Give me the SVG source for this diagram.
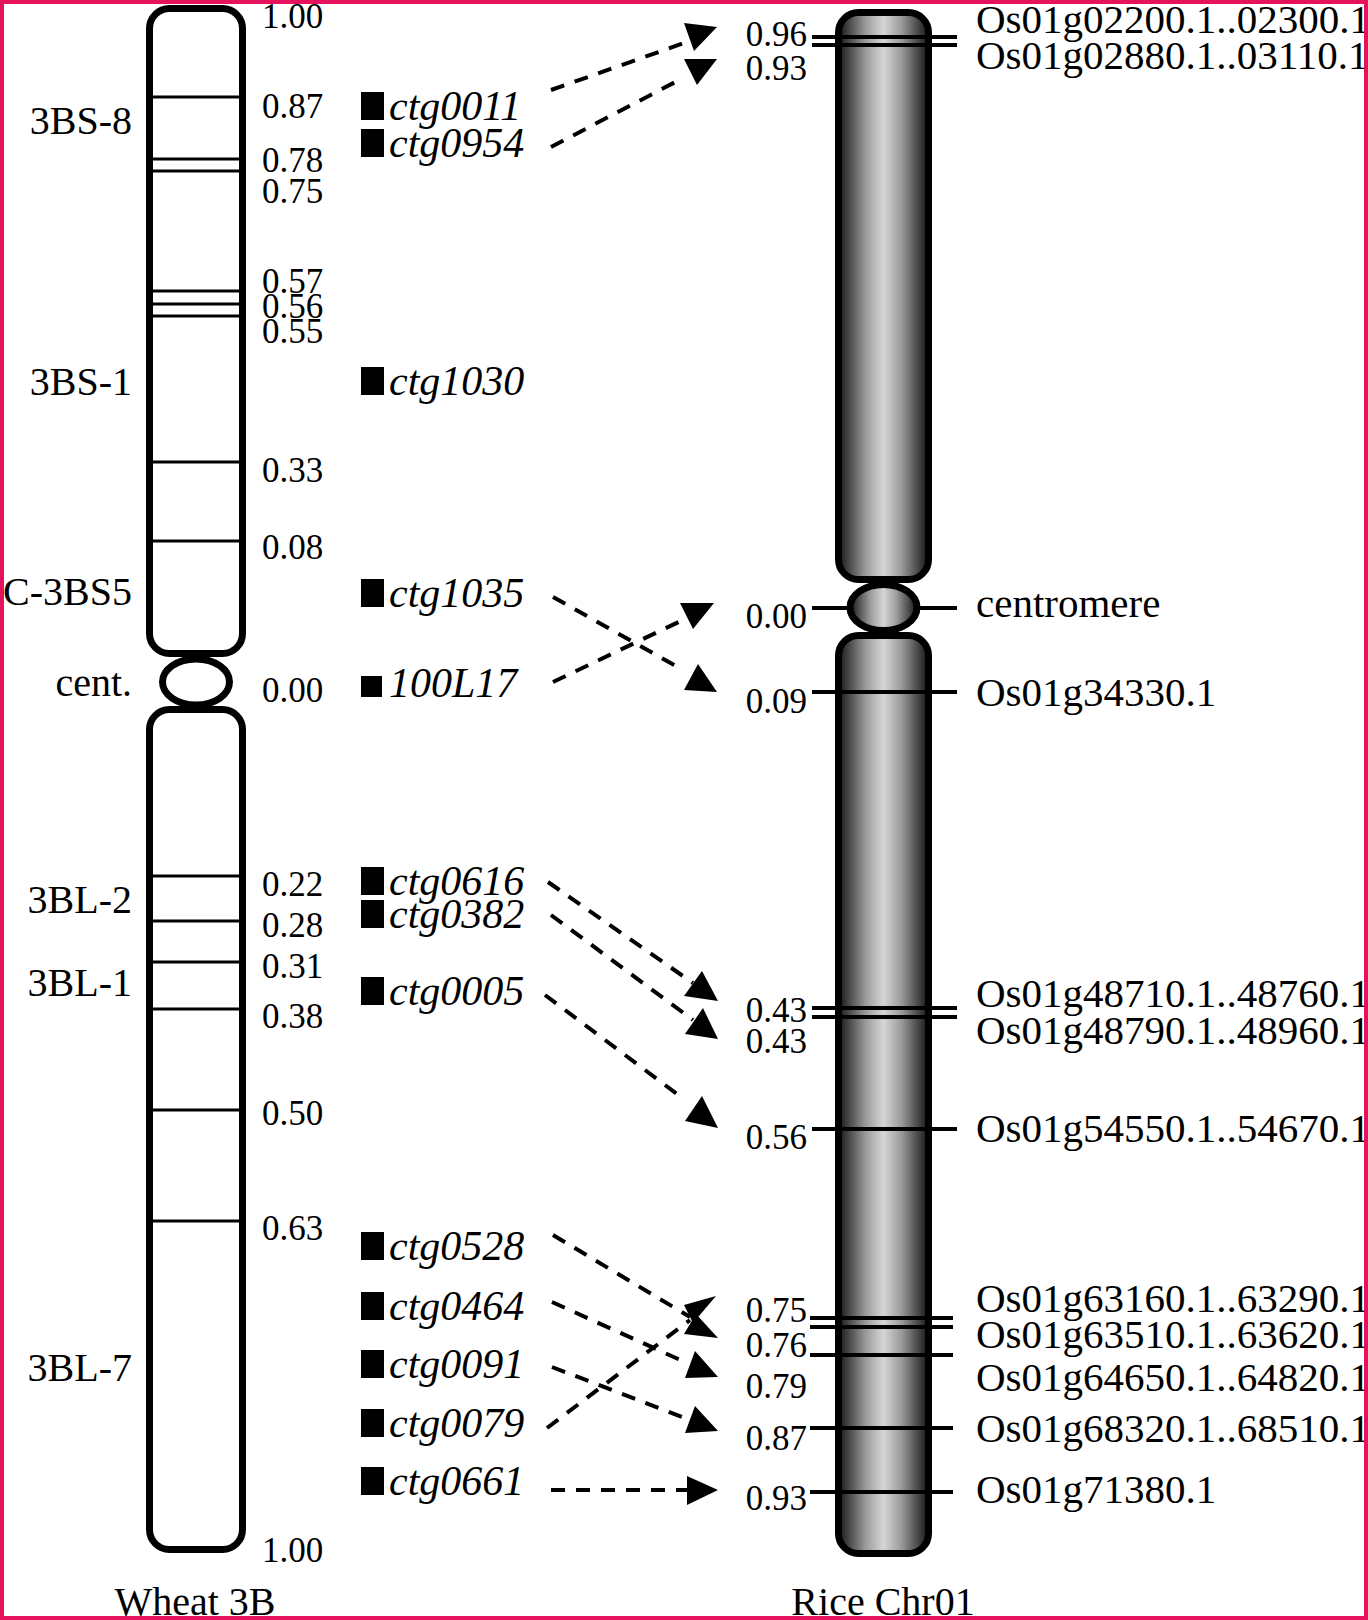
<svg xmlns="http://www.w3.org/2000/svg" width="1368" height="1620" viewBox="0 0 1368 1620">
<style>
.lbl{font-family:"Liberation Serif","Times New Roman",serif;font-size:40px;fill:#000}
.os{font-family:"Liberation Serif","Times New Roman",serif;font-size:41px;fill:#000}
.num{font-family:"Liberation Serif","Times New Roman",serif;font-size:35px;fill:#000}
.ctg{font-family:"Liberation Serif","Times New Roman",serif;font-size:42px;font-style:italic;fill:#000}
.chrW{fill:#fff;stroke:#000;stroke-width:7}
.chrR{fill:url(#rg);stroke:#000;stroke-width:7}
.band{stroke:#000;stroke-width:3}
.rband{stroke:#000;stroke-width:4}
.dash{fill:none;stroke:#000;stroke-width:4;stroke-dasharray:14 11}
.head{fill:#000}
</style>
<defs>
<linearGradient id="rg" x1="0" y1="0" x2="1" y2="0">
<stop offset="0" stop-color="#141414"/>
<stop offset="0.13" stop-color="#4e4e4e"/>
<stop offset="0.3" stop-color="#9a9a9a"/>
<stop offset="0.5" stop-color="#d6d6d6"/>
<stop offset="0.7" stop-color="#9a9a9a"/>
<stop offset="0.87" stop-color="#4e4e4e"/>
<stop offset="1" stop-color="#141414"/>
</linearGradient>
</defs>
<rect x="0" y="0" width="1368" height="1620" fill="#fff"/>

<g id="wheat3B">
<rect class="chrW" x="149.5" y="8.5" width="93" height="645" rx="20"/>
<rect class="chrW" x="149.5" y="709.5" width="93" height="840" rx="20"/>
<ellipse class="chrW" cx="196" cy="682" rx="33.5" ry="23"/>
<line class="band" x1="150" y1="97" x2="242" y2="97"/>
<line class="band" x1="150" y1="159" x2="242" y2="159"/>
<line class="band" x1="150" y1="171" x2="242" y2="171"/>
<line class="band" x1="150" y1="291" x2="242" y2="291"/>
<line class="band" x1="150" y1="304" x2="242" y2="304"/>
<line class="band" x1="150" y1="316" x2="242" y2="316"/>
<line class="band" x1="150" y1="462" x2="242" y2="462"/>
<line class="band" x1="150" y1="541" x2="242" y2="541"/>
<line class="band" x1="150" y1="876" x2="242" y2="876"/>
<line class="band" x1="150" y1="921" x2="242" y2="921"/>
<line class="band" x1="150" y1="962" x2="242" y2="962"/>
<line class="band" x1="150" y1="1009" x2="242" y2="1009"/>
<line class="band" x1="150" y1="1110" x2="242" y2="1110"/>
<line class="band" x1="150" y1="1221" x2="242" y2="1221"/>
<g class="num">
<text x="262" y="28">1.00</text>
<text x="262" y="118">0.87</text>
<text x="262" y="172">0.78</text>
<text x="262" y="203">0.75</text>
<text x="262" y="293">0.57</text>
<text x="262" y="318">0.56</text>
<text x="262" y="343">0.55</text>
<text x="262" y="482">0.33</text>
<text x="262" y="559">0.08</text>
<text x="262" y="702">0.00</text>
<text x="262" y="896">0.22</text>
<text x="262" y="937">0.28</text>
<text x="262" y="978">0.31</text>
<text x="262" y="1028">0.38</text>
<text x="262" y="1125">0.50</text>
<text x="262" y="1240">0.63</text>
<text x="262" y="1562">1.00</text>
</g>
<g class="lbl" text-anchor="end">
<text x="132" y="134">3BS-8</text>
<text x="132" y="395">3BS-1</text>
<text x="132" y="605">C-3BS5</text>
<text x="132" y="696">cent.</text>
<text x="132" y="913">3BL-2</text>
<text x="132" y="996">3BL-1</text>
<text x="132" y="1381">3BL-7</text>
</g>
<text class="lbl" x="195" y="1615" text-anchor="middle">Wheat 3B</text>
</g>

<g id="contigs">
<g id="ctg0011"><rect x="361" y="92" width="23" height="28"/><text class="ctg" x="389" y="120">ctg0011</text></g>
<g id="ctg0954"><rect x="361" y="129" width="23" height="28"/><text class="ctg" x="389" y="157">ctg0954</text></g>
<g id="ctg1030"><rect x="361" y="367" width="23" height="28"/><text class="ctg" x="389" y="395">ctg1030</text></g>
<g id="ctg1035"><rect x="361" y="579" width="23" height="28"/><text class="ctg" x="389" y="607">ctg1035</text></g>
<g id="c100L17"><rect x="361" y="676" width="21" height="21"/><text class="ctg" x="389" y="697">100L17</text></g>
<g id="ctg0616"><rect x="361" y="867" width="23" height="28"/><text class="ctg" x="389" y="895">ctg0616</text></g>
<g id="ctg0382"><rect x="361" y="900" width="23" height="28"/><text class="ctg" x="389" y="928">ctg0382</text></g>
<g id="ctg0005"><rect x="361" y="977" width="23" height="28"/><text class="ctg" x="389" y="1005">ctg0005</text></g>
<g id="ctg0528"><rect x="361" y="1232" width="23" height="28"/><text class="ctg" x="389" y="1260">ctg0528</text></g>
<g id="ctg0464"><rect x="361" y="1292" width="23" height="28"/><text class="ctg" x="389" y="1320">ctg0464</text></g>
<g id="ctg0091"><rect x="361" y="1350" width="23" height="28"/><text class="ctg" x="389" y="1378">ctg0091</text></g>
<g id="ctg0079"><rect x="361" y="1409" width="23" height="28"/><text class="ctg" x="389" y="1437">ctg0079</text></g>
<g id="ctg0661"><rect x="361" y="1467" width="23" height="28"/><text class="ctg" x="389" y="1495">ctg0661</text></g>
</g>

<g id="riceChr01">
<line class="rband" x1="812" y1="608" x2="957" y2="608"/>
<rect class="chrR" x="838.5" y="12.5" width="90" height="567" rx="20"/>
<rect class="chrR" x="838.5" y="635.5" width="90" height="918" rx="20"/>
<ellipse class="chrR" cx="883.5" cy="607.5" rx="33.5" ry="23"/>
<line class="rband" x1="812" y1="37" x2="957" y2="37"/>
<line class="rband" x1="812" y1="45" x2="957" y2="45"/>
<line class="rband" x1="812" y1="692" x2="957" y2="692"/>
<line class="rband" x1="812" y1="1008" x2="957" y2="1008"/>
<line class="rband" x1="812" y1="1017" x2="957" y2="1017"/>
<line class="rband" x1="812" y1="1129" x2="957" y2="1129"/>
<line class="rband" x1="810" y1="1318" x2="953" y2="1318"/>
<line class="rband" x1="810" y1="1327" x2="953" y2="1327"/>
<line class="rband" x1="810" y1="1355" x2="953" y2="1355"/>
<line class="rband" x1="810" y1="1428" x2="953" y2="1428"/>
<line class="rband" x1="810" y1="1492" x2="953" y2="1492"/>
<g class="num" text-anchor="end">
<text x="807" y="46">0.96</text>
<text x="807" y="80">0.93</text>
<text x="807" y="628">0.00</text>
<text x="807" y="713">0.09</text>
<text x="807" y="1022">0.43</text>
<text x="807" y="1053">0.43</text>
<text x="807" y="1149">0.56</text>
<text x="807" y="1322">0.75</text>
<text x="807" y="1357">0.76</text>
<text x="807" y="1398">0.79</text>
<text x="807" y="1450">0.87</text>
<text x="807" y="1510">0.93</text>
</g>
<g class="os">
<text x="976" y="33">Os01g02200.1..02300.1</text>
<text x="976" y="69">Os01g02880.1..03110.1</text>
<text x="976" y="617">centromere</text>
<text x="976" y="706">Os01g34330.1</text>
<text x="976" y="1007">Os01g48710.1..48760.1</text>
<text x="976" y="1044">Os01g48790.1..48960.1</text>
<text x="976" y="1142">Os01g54550.1..54670.1</text>
<text x="976" y="1312">Os01g63160.1..63290.1</text>
<text x="976" y="1348">Os01g63510.1..63620.1</text>
<text x="976" y="1391">Os01g64650.1..64820.1</text>
<text x="976" y="1442">Os01g68320.1..68510.1</text>
<text x="976" y="1503">Os01g71380.1</text>
</g>
<text class="lbl" x="883" y="1615" text-anchor="middle">Rice Chr01</text>
</g>

<g id="connectors">
<line class="dash" x1="551" y1="90" x2="687" y2="42"/>
<polygon class="head" points="684,23 717,27 694,51"/>
<line class="dash" x1="551" y1="147" x2="683" y2="78"/>
<polygon class="head" points="684,59 717,59 697,85"/>
<line class="dash" x1="553" y1="597" x2="683" y2="670"/>
<polygon class="head" points="684,690 717,692 698,664"/>
<line class="dash" x1="553" y1="682" x2="687" y2="618"/>
<polygon class="head" points="680,603 714,603 693,629"/>
<line class="dash" x1="548" y1="882" x2="693" y2="983"/>
<polygon class="head" points="684,996 718,1001 702,971"/>
<line class="dash" x1="551" y1="915" x2="693" y2="1020"/>
<polygon class="head" points="685,1034 718,1039 703,1008"/>
<line class="dash" x1="545" y1="995" x2="685" y2="1100"/>
<polygon class="head" points="685,1121 718,1128 702,1096"/>
<line class="dash" x1="553" y1="1235" x2="690" y2="1317"/>
<polygon class="head" points="684,1334 718,1338 696,1314"/>
<line class="dash" x1="552" y1="1302" x2="687" y2="1363"/>
<polygon class="head" points="685,1378 718,1377 695,1351"/>
<line class="dash" x1="552" y1="1367" x2="690" y2="1420"/>
<polygon class="head" points="685,1433 718,1431 695,1406"/>
<line class="dash" x1="547" y1="1428" x2="690" y2="1320"/>
<polygon class="head" points="684,1305 716,1296 693,1323"/>
<line class="dash" x1="551" y1="1490" x2="687" y2="1490"/>
<polygon class="head" points="687,1476 687,1505 718,1490"/>
</g>

<rect x="2" y="2" width="1364" height="1616" fill="none" stroke="#e4135b" stroke-width="4"/>
</svg>
